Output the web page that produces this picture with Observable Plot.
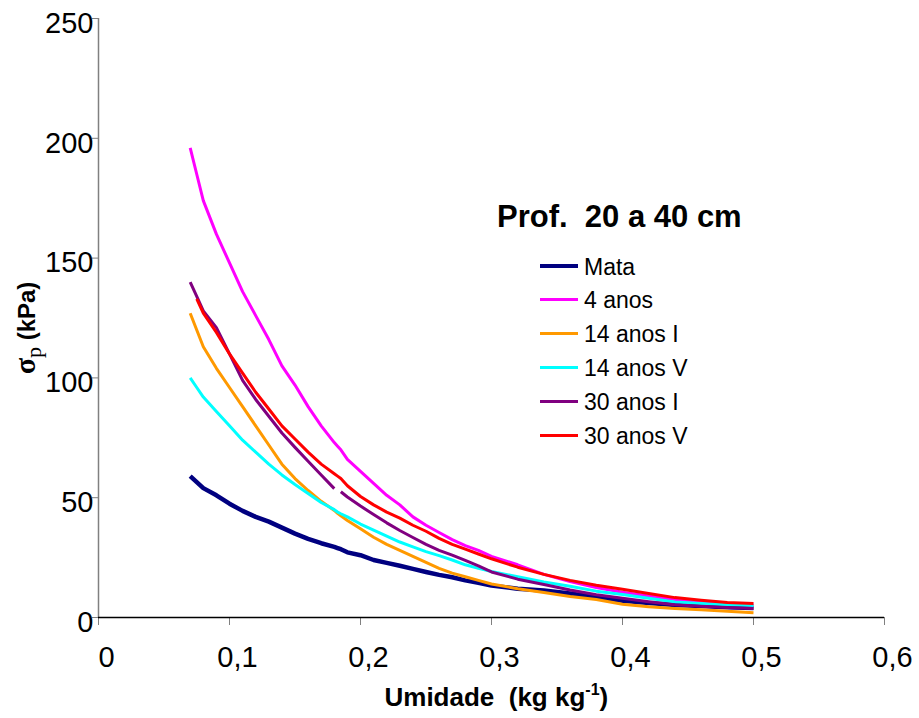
<!DOCTYPE html>
<html>
<head>
<meta charset="utf-8">
<script src="https://cdn.jsdelivr.net/npm/d3@7"></script>
<script src="https://cdn.jsdelivr.net/npm/@observablehq/plot@0.6"></script>
<style>
  body { margin: 0; background: #fff; font-family: "Liberation Sans", Arial, sans-serif; }
  #wrap { position: relative; width: 919px; height: 718px; overflow: hidden; }
  .abs { position: absolute; white-space: pre; line-height: 1; color: #000; }
  #title { font-weight: bold; font-size: 31px; }
  .leg-row { position: absolute; left: 540px; height: 24px; }
  .leg-line { position: absolute; left: 0; width: 38px; }
  .leg-text { position: absolute; left: 44px; font-size: 23px; line-height: 1; white-space: pre; }
  #xtitle { font-weight: bold; font-size: 26px; }
  #xtitle sup { font-size: 16px; vertical-align: 11px; line-height: 0; }
  #ytitle { font-weight: bold; font-size: 24px; transform: translate(-50%, -50%) rotate(-90deg); }
  #ytitle .sym { font-family: "Liberation Serif", "DejaVu Serif", serif; font-size: 30px; }
  #ytitle sub { font-family: "Liberation Serif", "DejaVu Serif", serif; font-size: 22px; vertical-align: -6px; line-height: 0; font-weight: normal; }
</style>
</head>
<body>
<div id="wrap"></div>
<script>
// ---- data ----
const umidade = [0.07, 0.075, 0.08, 0.09, 0.10, 0.11, 0.12, 0.13, 0.14, 0.15,
                 0.16, 0.17, 0.18, 0.1825, 0.185, 0.19, 0.20, 0.21, 0.22, 0.23,
                 0.24, 0.25, 0.26, 0.27, 0.28, 0.29, 0.30, 0.32, 0.34, 0.36,
                 0.38, 0.40, 0.42, 0.44, 0.46, 0.48, 0.50];

const mata     = [59, 56.5, 54, 51, 47.5, 44.5, 42, 40, 37.5, 35,
                  32.8, 31, 29.5, 29, 28.5, 27.2, 26, 24, 22.8, 21.6,
                  20.3, 19, 17.8, 16.8, 15.5, 14.5, 13.3, 12, 11.3, 10,
                  8.5, 7, 6, 5.2, 4.8, 4.3, 4];
const anos4    = [196, 185, 174, 160, 148, 136, 126, 116, 105, 97,
                  88, 80, 73, 71.5, 70, 66, 61, 56, 51, 47,
                  42, 38.5, 35.5, 32.5, 30, 28, 25.5, 22, 18, 15,
                  12.5, 10.5, 9, 7.5, 6.5, 5.6, 5.2];
const anos14I  = [127, 120, 113, 104, 96, 88, 80, 72, 64, 58,
                  53, 48.5, 44.7, 43.5, 42.5, 40.5, 37, 33.5, 30.5, 28,
                  25.5, 23, 20.5, 18.5, 17, 15.5, 14, 12, 10.4, 8.8,
                  7.5, 5.5, 4.5, 3.8, 3.2, 2.6, 2];
const anos14V  = [100, 96, 92, 86, 80, 74, 69, 64, 59.5, 55.5,
                  51.8, 48, 45, 44, 43.3, 42, 39, 36.5, 34, 31.5,
                  29.5, 27.5, 25.8, 24, 22, 20.5, 19.2, 17, 14.8, 13,
                  11, 9.6, 8, 6.5, 5.8, 5.3, 5];
const anos30I  = [140, 134, 128, 121, 110, 99, 91, 84, 77, 71,
                  65.2, 59.5, 53.8, NaN, 52.5, 50.3, 46.5, 43, 39.5, 36.3,
                  33.4, 30.5, 28, 26, 23.8, 21.5, 19, 16, 13.8, 11.5,
                  9.5, 8, 6.6, 5.3, 4.7, 4.2, 3.8];
const anos30V  = [NaN, 133, 127, 119, 110, 102, 94, 87, 80, 74.5,
                  69, 64, 60, 59, 58, 55, 50.5, 47, 44, 41.5,
                  38.5, 36, 33, 30.5, 28.5, 26.5, 24.5, 21, 18, 15.5,
                  13.5, 11.8, 10, 8.3, 7.2, 6.3, 5.8];

const seriesNames  = ["Mata", "4 anos", "14 anos I", "14 anos V", "30 anos I", "30 anos V"];
const seriesValues = [mata, anos4, anos14I, anos14V, anos30I, anos30V];
const seriesColors = ["#000080", "#FF00FF", "#FF9900", "#00FFFF", "#800080", "#FF0000"];
const seriesWidths = [4.5, 3, 3, 3, 3, 3];

const xTicks = [0, 0.1, 0.2, 0.3, 0.4, 0.5, 0.6];
const yTicks = [0, 50, 100, 150, 200, 250];

const titleText = "Prof.  20 a 40 cm";

// ---- build ----
const fmt = d => String(d).replace(".", ",");

const lineMarks = seriesNames.map((name, k) => {
  const rows = umidade.map((u, i) => ({serie: name, x: u, y: seriesValues[k][i]}));
  return Plot.line(rows, {x: "x", y: "y", stroke: seriesColors[k], strokeWidth: seriesWidths[k],
    strokeLinejoin: "round", strokeLinecap: "butt"});
});

const chart = Plot.plot({
  width: 919,
  height: 718,
  marginLeft: 98,
  marginRight: 35,
  marginTop: 18,
  marginBottom: 101,
  style: {fontFamily: "'Liberation Sans', Arial, sans-serif", fontSize: "29px", background: "#fff", color: "#000", overflow: "visible"},
  x: {domain: [0, 0.6]},
  y: {domain: [0, 250]},
  marks: [
    // tick marks
    Plot.axisY(yTicks, {tickSize: 6, stroke: "#808080", tickFormat: () => "", label: null}),
    Plot.axisX(xTicks, {tickSize: 8, stroke: "#808080", tickFormat: () => "", label: null}),
    // tick labels
    Plot.axisY(yTicks, {tickSize: 0, tickPadding: 6, dx: 1, dy: 5, fill: "#000",
      tickFormat: fmt, fontSize: 29, label: null}),
    Plot.axisX(xTicks, {tickSize: 0, tickPadding: 29, dx: 8, fill: "#000",
      tickFormat: fmt, fontSize: 29, label: null}),
    Plot.ruleX([0], {stroke: "#808080", strokeWidth: 1.5}),
    ...lineMarks,
    Plot.ruleY([0], {stroke: "#000", strokeWidth: 1.5})
  ]
});

const wrap = document.getElementById("wrap");
wrap.appendChild(chart);

// title
const title = document.createElement("div");
title.className = "abs";
title.id = "title";
title.textContent = titleText;
title.style.left = "497px";
title.style.top = (227 - 0.8465 * 31) + "px";
wrap.appendChild(title);

// legend
seriesNames.forEach((name, k) => {
  const baseline = 275 + k * 33.8;
  const center = baseline - 9;
  const row = document.createElement("div");
  row.className = "leg-row";
  row.style.top = "0px";
  const ln = document.createElement("div");
  ln.className = "leg-line";
  ln.style.background = seriesColors[k];
  ln.style.height = (k === 0 ? 4.5 : 3) + "px";
  ln.style.top = (center - (k === 0 ? 2.25 : 1.5)) + "px";
  const tx = document.createElement("div");
  tx.className = "leg-text";
  tx.textContent = name;
  tx.style.top = (baseline - 0.8465 * 23) + "px";
  row.appendChild(ln);
  row.appendChild(tx);
  wrap.appendChild(row);
});

// x title
const xt = document.createElement("div");
xt.className = "abs";
xt.id = "xtitle";
xt.innerHTML = "Umidade  (kg kg<sup>-1</sup>)";
xt.style.top = (706 - 0.8465 * 26) + "px";
wrap.appendChild(xt);
xt.style.left = (496.5 - xt.offsetWidth / 2) + "px";

// y title
const yt = document.createElement("div");
yt.className = "abs";
yt.id = "ytitle";
yt.innerHTML = "<span class=\"sym\">σ</span><sub>p</sub> (kPa)";
yt.style.left = "25px";
yt.style.top = "328px";
wrap.appendChild(yt);
</script>
</body>
</html>
